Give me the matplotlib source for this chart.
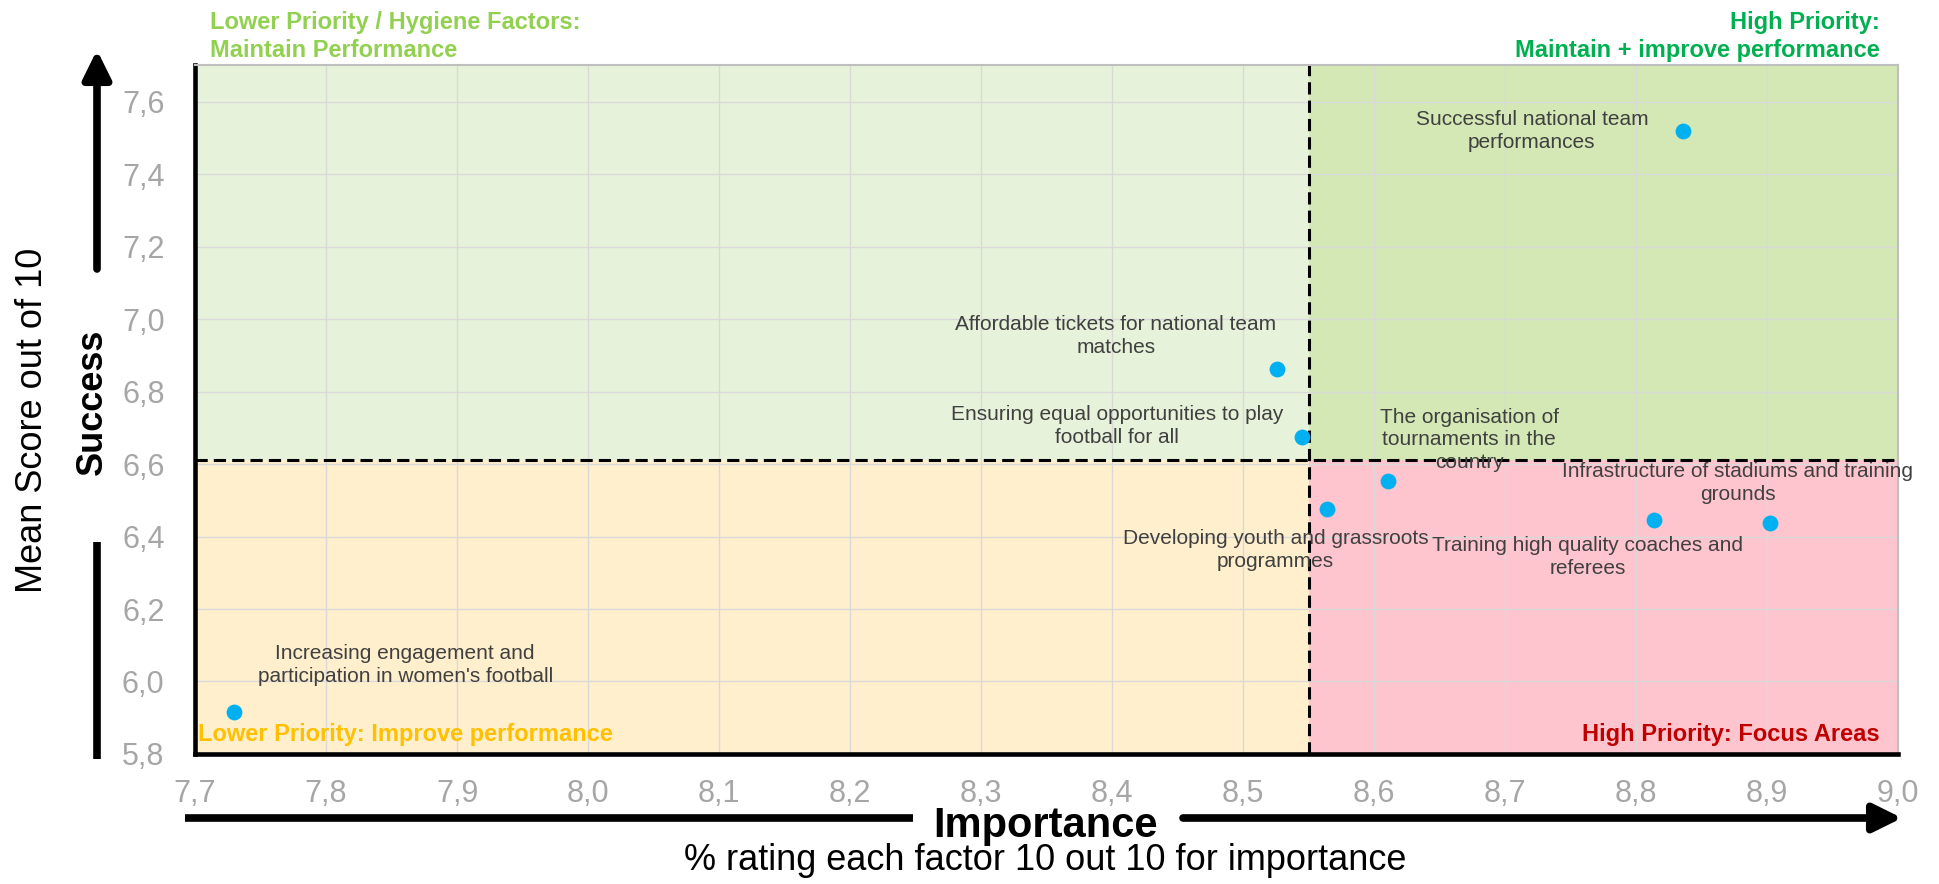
import numpy as np
import matplotlib.pyplot as plt
from matplotlib.patches import Rectangle

plt.rcParams['font.family'] = ['Liberation Sans', 'DejaVu Sans']

# Datos
factores = [
    "Successful national team\nperformances",
    "Affordable tickets for national team\nmatches",
    "Ensuring equal opportunities to play\nfootball for all",
    "The organisation of\ntournaments in the\ncountry",
    "Developing youth and grassroots\nprogrammes",
    "Training high quality coaches and\nreferees",
    "Infrastructure of stadiums and training\ngrounds",
    "Increasing engagement and\nparticipation in women's football",
]
importancia = [8.836, 8.526, 8.545, 8.611, 8.564, 8.814, 8.902, 7.730]
exito = [7.518, 6.861, 6.674, 6.552, 6.477, 6.446, 6.436, 5.916]

x_ticks = [7.7, 7.8, 7.9, 8.0, 8.1, 8.2, 8.3, 8.4, 8.5, 8.6, 8.7, 8.8, 8.9, 9.0]
y_ticks = [5.8, 6.0, 6.2, 6.4, 6.6, 6.8, 7.0, 7.2, 7.4, 7.6]
x_corte = 8.55
y_corte = 6.61

# Desplazamiento de etiquetas (puntos)
offsets = [(-109, 0), (-116, 24), (-133, 8), (58, 30), (-37, -30), (-48, -27), (-23, 29), (123, 34)]

fig = plt.figure(figsize=(19.39, 8.84), dpi=100)
ax = fig.add_axes([0.1006, 0.1471, 0.8783, 0.7789])

x0, x1 = 7.7, 9.0
y0, y1 = 5.8, 7.7
ax.set_xlim(x0, x1)
ax.set_ylim(y0, y1)

# Cuadrantes
ax.add_patch(Rectangle((x0, y_corte), x_corte - x0, y1 - y_corte, color='#E6F2D9', zorder=0, lw=0))
ax.add_patch(Rectangle((x_corte, y_corte), x1 - x_corte, y1 - y_corte, color='#D3E8B4', zorder=0, lw=0))
ax.add_patch(Rectangle((x0, y0), x_corte - x0, y_corte - y0, color='#FFEFCC', zorder=0, lw=0))
ax.add_patch(Rectangle((x_corte, y0), x1 - x_corte, y_corte - y0, color='#FFC5CE', zorder=0, lw=0))

ax.set_axisbelow(True)
ax.grid(True, color='#D9D9D9', lw=1.0, zorder=0.5)

ax.plot([x0, x1], [y_corte, y_corte], '--', color='black', lw=2.2, dashes=(4, 2), zorder=2)
ax.plot([x_corte, x_corte], [y0, y1], '--', color='black', lw=2.2, dashes=(4, 2), zorder=2)

ax.scatter(importancia, exito, s=130, color='#00B0F0', zorder=4, lw=0)

for nombre, xv, yv, (dx, dy) in zip(factores, importancia, exito, offsets):
    ax.annotate(nombre, (xv, yv), xytext=(dx, dy), textcoords='offset points',
                ha='center', va='center', fontsize=15, color='#404040', zorder=5,
                linespacing=1.25)

ax.set_xticks(x_ticks)
ax.set_yticks(y_ticks)
ax.set_xticklabels([f"{v:.1f}".replace('.', ',') for v in x_ticks])
ax.set_yticklabels([f"{v:.1f}".replace('.', ',') for v in y_ticks])
ax.tick_params(length=0, labelsize=22, labelcolor='#A6A6A6')
ax.tick_params(axis='x', pad=18)
ax.tick_params(axis='y', pad=22)

for s in ['left', 'bottom']:
    ax.spines[s].set_linewidth(3.3)
    ax.spines[s].set_color('black')
for s in ['top', 'right']:
    ax.spines[s].set_linewidth(1.5)
    ax.spines[s].set_color('#BFBFBF')

# Textos de cuadrantes
ax.text(0.009, 1.005, "Lower Priority / Hygiene Factors:\nMaintain Performance", transform=ax.transAxes,
        ha='left', va='bottom', fontsize=17, fontweight='bold', color='#92D050', linespacing=1.25)
ax.text(0.989, 1.005, "High Priority:\nMaintain + improve performance", transform=ax.transAxes,
        ha='right', va='bottom', fontsize=17, fontweight='bold', color='#00B050', linespacing=1.25)
ax.text(0.002, 0.012, "Lower Priority: Improve performance", transform=ax.transAxes,
        ha='left', va='bottom', fontsize=17, fontweight='bold', color='#FFC000')
ax.text(0.989, 0.012, "High Priority: Focus Areas", transform=ax.transAxes,
        ha='right', va='bottom', fontsize=17, fontweight='bold', color='#C00000')

# Flechas de ejes (pixeles de figura)
H = 884
flecha = dict(arrowstyle='-|>,head_length=0.85,head_width=0.42', color='black', lw=5.5,
              mutation_scale=20, shrinkA=0, shrinkB=0)
ax.annotate('', xy=(97, H - 50), xytext=(97, H - 269), xycoords='figure pixels', arrowprops=flecha)
ax.plot([97, 97], [H - 542, H - 759], color='black', lw=5.5, transform=None, clip_on=False,
        solid_capstyle='butt')
ax.annotate('', xy=(1902, H - 818), xytext=(1183, H - 818), xycoords='figure pixels', arrowprops=flecha)
ax.plot([185, 913], [H - 818, H - 818], color='black', lw=5.5, transform=None, clip_on=False,
        solid_capstyle='butt')

fig.text(92 / 1939, 1 - 402 / H, "Success", rotation=90, ha='center', va='center',
         fontsize=26, fontweight='bold')
fig.text(33 / 1939, 1 - 420 / H, "Mean Score out of 10", rotation=90, ha='center', va='center',
         fontsize=26)
fig.text(1045 / 1939, 1 - 837 / H, "Importance", ha='center', va='baseline',
         fontsize=30, fontweight='bold')
fig.text(1045 / 1939, 1 - 870 / H, "% rating each factor 10 out 10 for importance", ha='center',
         va='baseline', fontsize=26)

fig.savefig('out.png', dpi=100)
